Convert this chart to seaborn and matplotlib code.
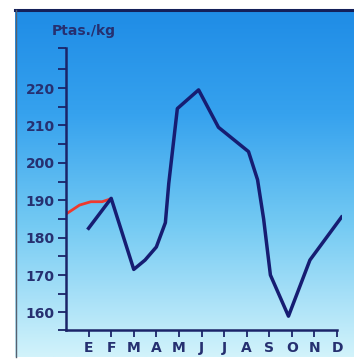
import numpy as np
import pandas as pd
import matplotlib
matplotlib.use("Agg")
import matplotlib.pyplot as plt
from matplotlib.colors import LinearSegmentedColormap
from matplotlib.lines import Line2D
import seaborn as sns

# ---- data ----
month_labels = ["E", "F", "M", "A", "M", "J", "J", "A", "S", "O", "N", "D"]
month_pos = [1, 2, 3, 4, 5, 6, 7, 8, 9, 10, 11, 12]

blue_month = [1.0, 2.0, 3.0, 3.5, 4.0, 4.4, 4.55, 4.93, 5.87, 6.75, 8.08, 8.48, 8.75, 9.05, 9.85, 10.8, 12.2]
blue_price = [182.5, 190.5, 171.5, 174.0, 177.5, 184.0, 194.5, 214.5, 219.5, 209.5, 203.0, 195.5, 185.0, 170.0, 159.0, 174.0, 185.5]

red_month = [0.05, 0.6, 1.1, 1.6, 2.0]
red_price = [186.5, 188.7, 189.6, 189.6, 190.4]

y_major = [160, 170, 180, 190, 200, 210, 220]
y_minor = [155.4, 165, 175, 185, 195, 205, 215, 225, 230.6]
unit_label = "Ptas./kg"

# ---- figure ----
W, H = 354, 359
fig = plt.figure(figsize=(W / 100, H / 100), dpi=100)
fig.patch.set_facecolor("white")

# gradient background panel
bg = fig.add_axes([15 / W, 2 / H, (W - 15) / W, (357 - 10) / H])
cmap = LinearSegmentedColormap.from_list(
    "bg", [(0.0, "#1f8ce6"), (0.3, "#36a2ee"), (0.62, "#74caf3"), (1.0, "#d2f3fb")])
grad = np.linspace(0, 1, 256).reshape(-1, 1)
bg.imshow(grad, aspect="auto", cmap=cmap, extent=[0, 1, 0, 1], origin="upper")
bg.set_axis_off()

navy = "#1b2468"
fig.add_artist(Line2D([15 / W, 1], [(H - 10) / H] * 2, color="#14205a", lw=2.2,
                      transform=fig.transFigure))
fig.add_artist(Line2D([16 / W] * 2, [2 / H, (H - 10) / H], color="#556070", lw=1.0,
                      transform=fig.transFigure))

ax = fig.add_axes([66 / W, 29 / H, 276 / W, 282 / H])
ax.patch.set_alpha(0)

df_red = pd.DataFrame({"month": red_month, "price": red_price})
df_blue = pd.DataFrame({"month": blue_month, "price": blue_price})
sns.lineplot(data=df_red, x="month", y="price", sort=False, estimator=None,
             color="#ee3a2e", lw=2.0, ax=ax)
sns.lineplot(data=df_blue, x="month", y="price", sort=False, estimator=None,
             color="#161d72", lw=2.5, ax=ax)

ax.set_xlim(0, 12.22)
ax.set_ylim(155.3, 230.7)
ax.set_xlabel("")
ax.set_ylabel("")

for s in ["top", "right"]:
    ax.spines[s].set_visible(False)
for s in ["left", "bottom"]:
    ax.spines[s].set_color(navy)
    ax.spines[s].set_linewidth(1.8)
ax.spines["bottom"].set_bounds(0, 12)

ax.set_xticks(month_pos)
ax.set_xticklabels(month_labels, fontweight="bold")
ax.set_yticks(y_major)
ax.set_yticklabels([str(v) for v in y_major], fontweight="bold")
ax.set_yticks(y_minor, minor=True)
ax.tick_params(axis="x", direction="out", length=5, width=1.3, color=navy,
               labelcolor="#263070", labelsize=10, pad=3)
ax.tick_params(axis="y", which="major", direction="out", length=6, width=1.3,
               color=navy, labelcolor="#263070", labelsize=10, pad=2)
ax.tick_params(axis="y", which="minor", direction="out", length=6, width=1.3,
               color=navy)

fig.text(52 / W, (H - 31) / H, unit_label, fontsize=10, color="#263070",
         fontweight="bold", ha="left", va="center")

fig.savefig("out.png", dpi=100)
